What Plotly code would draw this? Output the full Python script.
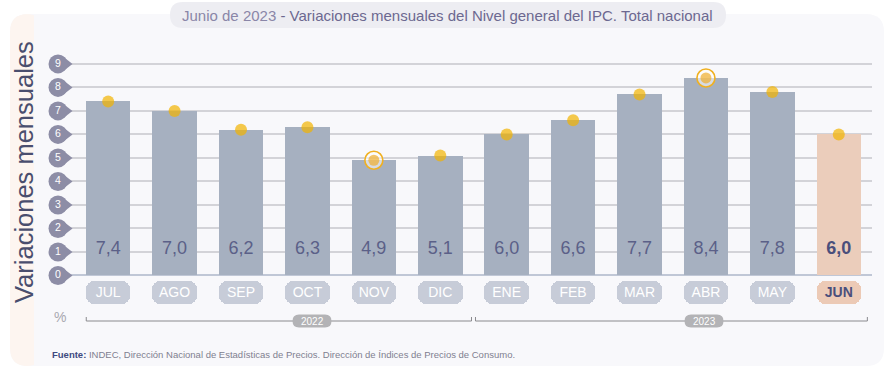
import plotly.graph_objects as go

months = ["JUL", "AGO", "SEP", "OCT", "NOV", "DIC", "ENE", "FEB", "MAR", "ABR", "MAY", "JUN"]
values = [7.4, 7.0, 6.2, 6.3, 4.9, 5.1, 6.0, 6.6, 7.7, 8.4, 7.8, 6.0]
value_labels = ["7,4", "7,0", "6,2", "6,3", "4,9", "5,1", "6,0", "6,6", "7,7", "8,4", "7,8", "6,0"]
y_ticks = [0, 1, 2, 3, 4, 5, 6, 7, 8, 9]
highlight = ["NOV", "ABR"]
years = ["2022", "2023"]
year_spans = [(0, 5), (6, 11)]

W, H = 887, 369
L, R, T, B = 49, 15, 58, 63
PW, PH = W - L - R, H - T - B
CAT_W = 66.42
X_LEFT = 11.5 - PW / CAT_W
FONT = "Liberation Sans, Arial, sans-serif"


def px(x):
    return (x - L) / PW


def py(y):
    return (H - B - y) / PH


def rrect(x0, y0, x1, y1, r, rb=None):
    """rounded rect path in paper coords from pixel coords"""
    rb = r if rb is None else rb
    rx, ry = r / PW, r / PH
    rbx, rby = rb / PW, rb / PH
    X0, X1, Y0, Y1 = px(x0), px(x1), py(y0), py(y1)  # Y0 top, Y1 bottom
    return (f"M{X0+rx},{Y0} L{X1-rx},{Y0} Q{X1},{Y0} {X1},{Y0-ry} "
            f"L{X1},{Y1+rby} Q{X1},{Y1} {X1-rbx},{Y1} L{X0+rbx},{Y1} "
            f"Q{X0},{Y1} {X0},{Y1+rby} L{X0},{Y0-ry} Q{X0},{Y0} {X0+rx},{Y0} Z")


last = len(months) - 1
bar_colors = ["#a6b0c0"] * last + ["#ebcdbb"]
lab_colors = ["#c7ccd8"] * last + ["#eccab6"]
lab_text_colors = ["#ffffff"] * last + ["#4a4f7c"]
month_text = [m if i < last else f"<b>{m}</b>" for i, m in enumerate(months)]
val_text = [v if i < last else f"<b>{v}</b>" for i, v in enumerate(value_labels)]

fig = go.Figure()

# main bars
fig.add_trace(go.Bar(x=months, y=values, marker=dict(color=bar_colors, line=dict(width=0)),
                     width=0.67, hoverinfo="skip"))
# month label tabs
fig.add_trace(go.Bar(x=months, y=[-0.98] * len(months), base=-0.25,
                     marker=dict(color=lab_colors, line=dict(width=0), cornerradius=8),
                     width=0.67, hoverinfo="skip"))
fig.add_trace(go.Scatter(x=months, y=[-0.76] * len(months), mode="text", text=month_text,
                         textfont=dict(color=lab_text_colors, size=14, family=FONT),
                         hoverinfo="skip", cliponaxis=False))
# value labels
fig.add_trace(go.Scatter(x=months, y=[1.1] * len(months), mode="text", text=val_text,
                         textfont=dict(color=["#5b6088"] * last + ["#4a4f7c"], size=18, family=FONT),
                         hoverinfo="skip"))
# highlight rings
hx = [m for m in months if m in highlight]
hy = [values[months.index(m)] for m in hx]
fig.add_trace(go.Scatter(x=hx, y=hy, mode="markers",
                         marker=dict(size=18, color="rgba(255,255,255,0.55)",
                                     line=dict(color="#f0b020", width=1.6)),
                         hoverinfo="skip", cliponaxis=False))
# dots
fig.add_trace(go.Scatter(x=months, y=values, mode="markers",
                         marker=dict(size=[11 if m in highlight else 12 for m in months],
                                     color=["#f0ae2c" if m in highlight else "#f2b400" for m in months],
                                     line=dict(width=0)),
                         hoverinfo="skip", cliponaxis=False))
# y tick pins
fig.add_trace(go.Scatter(x=[px(66)] * len(y_ticks), y=y_ticks, xaxis="x2", mode="markers",
                         marker=dict(symbol="triangle-right", size=13, color="#8d8da6", line=dict(width=0)),
                         hoverinfo="skip", cliponaxis=False))
fig.add_trace(go.Scatter(x=[px(58)] * len(y_ticks), y=y_ticks, xaxis="x2", mode="markers+text",
                         text=[str(t) for t in y_ticks], textposition="middle center",
                         textfont=dict(color="white", size=10.5, family=FONT),
                         marker=dict(symbol="circle", size=19, color="#8d8da6", line=dict(width=0)),
                         hoverinfo="skip", cliponaxis=False))

shapes = []
# panel background
shapes.append(dict(type="path", xref="paper", yref="paper", path=rrect(10, 14, 884, 366, 18),
                   fillcolor="#f8f8fb", line=dict(width=0), layer="below"))
shapes.append(dict(type="path", xref="paper", yref="paper", path=rrect(10, 14, 44, 366, 18, 18),
                   fillcolor="#fdf5f0", line=dict(width=0), layer="below"))
shapes.append(dict(type="rect", xref="paper", yref="paper", x0=px(34), x1=px(44), y0=py(366), y1=py(14),
                   fillcolor="#f8f8fb", line=dict(width=0), layer="below"))
# title pill
shapes.append(dict(type="path", xref="paper", yref="paper", path=rrect(170, 2, 726, 28, 13),
                   fillcolor="#ededf2", line=dict(width=0), layer="below"))

# year brackets
yb = py(321)
ybt = py(317)
for (a, b), yr in zip(year_spans, years):
    x0 = a - 0.33 if a == 0 else a - 0.47
    x1 = b + 0.47 if b < last else b + 0.43
    shapes.append(dict(type="line", xref="x", yref="paper", x0=x0, x1=x1, y0=yb, y1=yb,
                       line=dict(color="#8a8a8e", width=1), layer="below"))
    for xx in (x0, x1):
        shapes.append(dict(type="line", xref="x", yref="paper", x0=xx, x1=xx, y0=yb, y1=ybt,
                           line=dict(color="#8a8a8e", width=1), layer="below"))

year_px = [312, 704]
annotations = []
for yr, xc in zip(years, year_px):
    shapes.append(dict(type="path", xref="paper", yref="paper",
                       path=rrect(xc - 19.5, 314.5, xc + 19.5, 327.5, 6.5),
                       fillcolor="#b3b3b6", line=dict(width=0), layer="below"))
    annotations.append(dict(xref="paper", yref="paper", x=px(xc), y=py(321), text=yr,
                            xanchor="center", yanchor="middle",
                            showarrow=False, font=dict(color="white", size=10, family=FONT)))

annotations += [
    dict(xref="paper", yref="paper", x=px(447), y=py(15), xanchor="center", yanchor="middle",
         text="<span style='color:#8a86a8'>Junio de 2023</span> - "
              "<span style='color:#6c6890'>Variaciones mensuales del Nivel general del IPC. Total nacional</span>",
         showarrow=False, font=dict(size=15, family=FONT, color="#6c6890")),
    dict(xref="paper", yref="paper", x=px(24), y=py(172), text="Variaciones mensuales", textangle=-90,
         xanchor="center", yanchor="middle",
         showarrow=False, font=dict(size=25.5, family=FONT, color="#4a4e6e")),
    dict(xref="paper", yref="paper", x=px(60), y=py(317), text="%", showarrow=False,
         xanchor="center", yanchor="middle",
         font=dict(size=14, family=FONT, color="#a8a8b0")),
    dict(xref="paper", yref="paper", x=px(50), y=py(354), xanchor="left", yanchor="middle",
         text="<b><span style='color:#3e4a80'>Fuente:</span></b> INDEC, Dirección Nacional de Estadísticas de Precios. "
              "Dirección de Índices de Precios de Consumo.",
         showarrow=False, font=dict(size=9.5, family=FONT, color="#7f7f90")),
]

fig.update_layout(
    width=W, height=H, margin=dict(l=L, r=R, t=T, b=B, autoexpand=False),
    paper_bgcolor="white", plot_bgcolor="rgba(0,0,0,0)",
    barmode="overlay", showlegend=False, bargap=0,
    xaxis=dict(type="category", range=[X_LEFT, 11.5], showticklabels=False, showgrid=False,
               zeroline=False, showline=False, fixedrange=True),
    xaxis2=dict(overlaying="x", range=[0, 1], visible=False, fixedrange=True),
    yaxis=dict(range=[-1.3, 9.25], tickvals=y_ticks, showticklabels=False, showgrid=True,
               gridcolor="#d3d3d8", gridwidth=2, zeroline=True, zerolinecolor="#c0c7d6",
               zerolinewidth=2, showline=False, fixedrange=True),
    shapes=shapes, annotations=annotations,
)

fig.write_html("out.html", config={"displayModeBar": False},
               post_script="document.body.style.margin='0';")
